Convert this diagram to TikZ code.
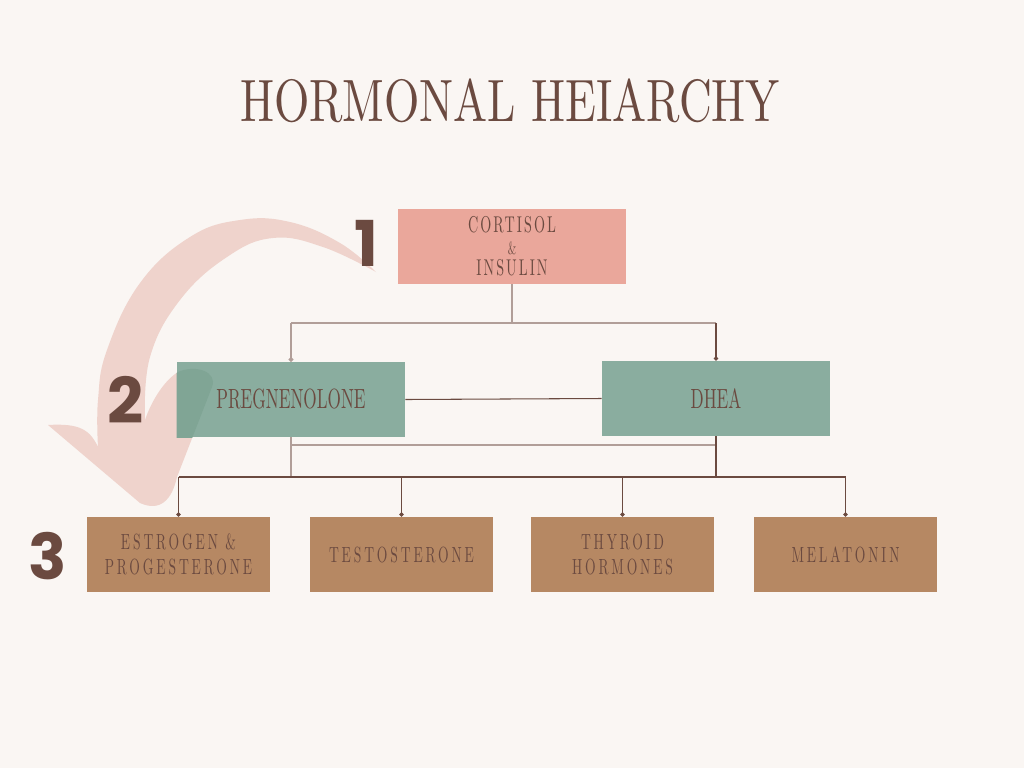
\documentclass[tikz,border=0pt]{standalone}
\usepackage{fontspec}
\usepackage{tikz}
\usetikzlibrary{arrows.meta,positioning}
\definecolor{paper}{HTML}{FAF6F3}
\definecolor{salmon}{HTML}{EAA79B}
\definecolor{sage}{HTML}{8AAD9F}
\definecolor{sagedeep}{HTML}{80A595}
\definecolor{tan}{HTML}{B68863}
\definecolor{ink}{HTML}{6B4A40}
\definecolor{inklight}{HTML}{B19E98}
\definecolor{blush}{HTML}{EFD3CC}
\newfontfamily\titlefont{lmroman10-regular.otf}[FakeStretch=0.76]
\newfontfamily\labelfont{lmroman10-regular.otf}[FakeStretch=0.62]
\newfontfamily\topfont{lmroman10-regular.otf}[FakeStretch=0.62,LetterSpace=9]
\newfontfamily\widefont{lmroman10-regular.otf}[FakeStretch=0.62,LetterSpace=13]
\newfontfamily\numfont{Poppins}
% outline of the big curved arrow
\newcommand\swoop{plot[smooth, tension=0.7] coordinates {(376,272) (340,243) (290,222) (240,220) (190,237) (140,283) (107,350) (98,400) (98,447)}
    .. controls (90,430) and (80,423) .. (48,425)
    -- (140,503) .. controls (160,512) and (172,500) .. (177,477)
    -- (212,387) .. controls (218,372) and (196,364) .. (178,372)
    .. controls (162,382) and (150,405) .. (145,420)
    -- plot[smooth, tension=0.7] coordinates {(145,420) (150,357) (180,300) (227,257) (273,238) (323,247) (376,272)} -- cycle}

\begin{document}
\begin{tikzpicture}[
    x=0.02cm, y=-0.02cm,
    level/.style={rectangle, inner sep=0pt, minimum width=4.56cm, minimum height=1.5cm, align=center, text=ink},
    top/.style={level, fill=salmon, font=\topfont\fontsize{13}{12.2}\selectfont},
    mid/.style={level, fill=sage, font=\labelfont\fontsize{15.8}{16}\selectfont},
    low/.style={level, fill=tan, minimum width=3.66cm, font=\widefont\fontsize{12.5}{14.5}\selectfont},
    rank/.style={font=\numfont\bfseries\fontsize{36}{36}\selectfont, text=ink},
    link/.style={draw=ink, line width=0.6pt},
    linklight/.style={draw=inklight, line width=1pt},
    dot/.style={-{Circle[length=2.5pt]}}
]
    \fill[paper] (0,0) rectangle (1024,768);

    % title
    \node[text=ink, font=\titlefont\fontsize{34}{34}\selectfont] (title) at (510,101) {HORMONAL HEIARCHY};

    % swooping arrow from level 1 down to level 3
    \fill[blush] \swoop;

    % boxes
    \node[top] (cort) at (512,246.5) {CORTISOL\\{\fontsize{10}{9}\selectfont\&}\\INSULIN};
    \node[mid] (preg) at (291,399.5) {PREGNENOLONE};
    \node[mid] (dhea) at (716,398.5) {DHEA};
    \node[low] (estro) at (178.5,554.5) {ESTROGEN \&\\PROGESTERONE};
    \node[low] (testo) at (401.5,554.5) {TESTOSTERONE};
    \node[low] (thyro) at (622.5,554.5) {THYROID\\HORMONES};
    \node[low] (melat) at (845.5,554.5) {MELATONIN};

    % arrow showing through the first green box
    \begin{scope}
        \clip (preg.south west) rectangle (preg.north east);
        \fill[sagedeep] \swoop;
    \end{scope}

    % level numbers
    \node[rank] (one) at (366,243) {1};
    \node[rank] (two) at (126,400) {2};
    \node[rank] (three) at (48,556) {3};

    % connectors
    \coordinate (split) at (512,323);
    \coordinate (tie) at (0,445);
    \coordinate (bus) at (0,477);
    \draw[linklight] (cort.south) -- (split);
    \draw[linklight] (preg.north |- split) -- (dhea.north |- split);
    \draw[linklight, dot] (preg.north |- split) -- (preg.north);
    \draw[link, dot] (dhea.north |- split) -- (dhea.north);
    \draw[link] (preg.east) -- (dhea.west);
    \draw[linklight] (preg.south) -- (preg.south |- bus);
    \draw[linklight, line width=1.4pt] (preg.south |- tie) -- (dhea.south |- tie);
    \draw[link] (dhea.south) -- (dhea.south |- bus);
    \draw[link] (estro.north |- bus) -- (melat.north |- bus);
    \foreach \b in {estro,testo,thyro,melat}
        \draw[link, dot] (\b.north |- bus) -- (\b.north);
\end{tikzpicture}
\end{document}
